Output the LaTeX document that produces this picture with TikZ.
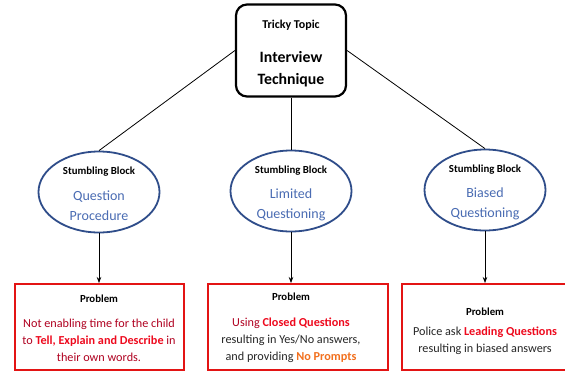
\documentclass[tikz,border=0pt]{standalone}
\usepackage{fontspec}
\setmainfont{Carlito}
\usetikzlibrary{arrows.meta,shapes.geometric}
\definecolor{eblue}{HTML}{2F4D8A}
\definecolor{tblue}{HTML}{4A6CB3}
\definecolor{dred}{HTML}{B00020}
\definecolor{bred}{HTML}{EE0A1E}
\definecolor{boxred}{HTML}{E31414}
\definecolor{orng}{HTML}{F2701E}
\definecolor{dgray}{HTML}{262626}
\tikzset{
  topbox/.style={draw=black,line width=2.2pt,rounded corners=11pt,minimum width=110pt,minimum height=92pt,inner sep=0pt},
  blockell/.style={draw=eblue,line width=1.8pt,ellipse,minimum width=121pt,minimum height=81pt,inner sep=0pt},
  probbox/.style={draw=boxred,line width=1.8pt,anchor=north west,inner sep=0pt},
  link/.style={draw=black,line width=0.8pt},
  arr/.style={draw=black,line width=0.7pt,-{Stealth[length=6pt,width=4.5pt]}},
  hd/.style={font=\fontsize{10.8}{13}\selectfont\bfseries,text=black,inner sep=0pt},
  blk/.style={font=\fontsize{14}{20}\selectfont,text=tblue,align=center,inner sep=0pt},
  ptxt/.style={font=\fontsize{12.2}{17}\selectfont,align=center,inner sep=0pt}
}
\begin{document}
\begin{tikzpicture}[x=1pt,y=-1pt]
\useasboundingbox (0,0) rectangle (565,370);
\fill[white] (0,0) rectangle (565,370);
% top box
\node[topbox] (top) at (291,50.5) {};
\node[font=\fontsize{12}{14}\selectfont\bfseries,inner sep=0pt] (tt) at (291,25) {Tricky Topic};
\node[font=\fontsize{15.8}{22}\selectfont\bfseries,align=center,inner sep=0pt] (it) at (291,69) {Interview\\Technique};
% ellipses
\node[blockell] (e1) at (99,192) {};
\node[blockell] (e2) at (291,191) {};
\node[blockell] (e3) at (485,190) {};
\node[hd] (h1) at (99,172) {Stumbling Block};
\node[hd] (h2) at (291,171) {Stumbling Block};
\node[hd] (h3) at (485,170) {Stumbling Block};
\node[blk] (b1) at (99,206) {Question\\Procedure};
\node[blk] (b2) at (291,205) {Limited\\Questioning};
\node[blk] (b3) at (485,204) {Biased\\Questioning};
% connectors
\draw[link] (top.west) -- (e1.north);
\draw[link] (top.south) -- (e2.north);
\draw[link] (top.east) -- (e3.north);
% problem boxes
\node[probbox,minimum width=169pt,minimum height=86pt] (p1) at (14,283) {};
\node[probbox,minimum width=180pt,minimum height=86pt] (p2) at (207,283) {};
\node[probbox,minimum width=166pt,minimum height=86pt] (p3) at (401,283) {};
\draw[arr] (e1.south) -- (p1.north -| e1.south);
\draw[arr] (e2.south) -- (p2.north -| e2.south);
\draw[arr] (e3.south) -- (p3.north -| e3.south);
\node[hd] (ph1) at (99,299) {Problem};
\node[hd] (ph2) at (291,297) {Problem};
\node[hd] (ph3) at (485,312) {Problem};
\node[ptxt,text=dred] (t1) at (99,340) {Not enabling time for the child\\to \textbf{\color{bred}Tell, Explain and Describe} in\\their own words.};
\node[ptxt,text=dgray] (t2) at (291,340) {{\color{dred}Using} \textbf{\color{bred}Closed Questions}\\resulting in Yes/No answers,\\and providing \textbf{\color{orng}No Prompts}};
\node[ptxt,text=dgray] (t3) at (485,341) {Police ask \textbf{\color{bred}Leading Questions}\\resulting in biased answers};
\end{tikzpicture}
\end{document}
